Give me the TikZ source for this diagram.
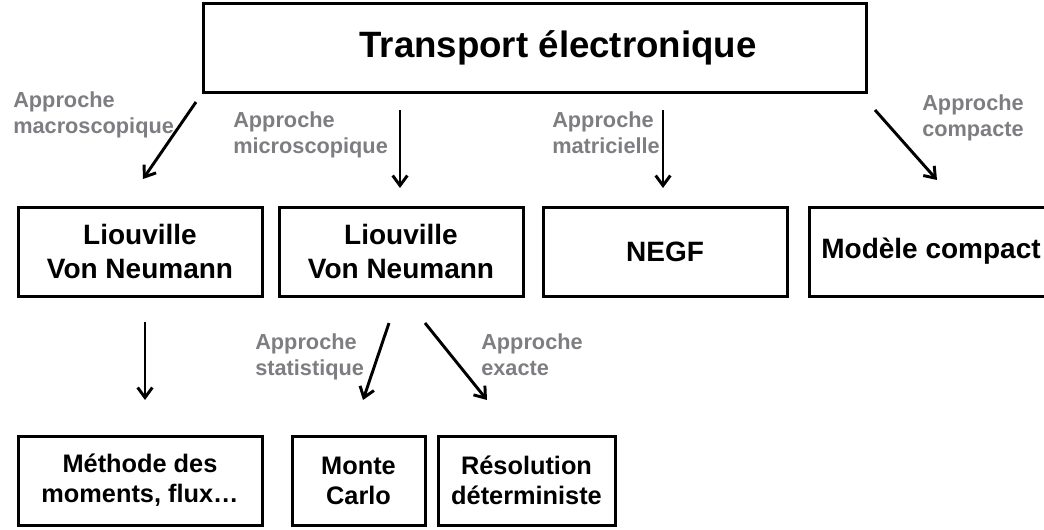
\documentclass[tikz,border=0pt]{standalone}
\usepackage{fontspec}
\setmainfont{Liberation Sans}
\usetikzlibrary{arrows.meta}
\definecolor{grisapp}{RGB}{126,126,130}
\tikzset{
  boite/.style={draw=black, line width=2.25pt, minimum height=66.75pt, inner sep=0pt,
    align=center, font=\bfseries\fontsize{21}{26}\selectfont},
  boitebas/.style={boite, font=\bfseries\fontsize{19}{22.5}\selectfont},
  approche/.style={anchor=base west, inner sep=0pt, align=left, text=grisapp,
    font=\bfseries\fontsize{16.3}{19.5}\selectfont},
  fleche/.style={line width=2.2pt, -{Straight Barb[length=7.5pt,width=11pt]}}
}
\begin{document}
\begin{tikzpicture}[x=0.75pt,y=-0.75pt]
  \useasboundingbox (0,0) rectangle (1044,529);
  % Boite du haut
  \node[boite, minimum width=497.25pt] (transport) at (534.5,47.5) {};
  \node[anchor=base, inner sep=0pt, font=\bfseries\fontsize{27.5}{33}\selectfont]
    (titre) at (558,57) {Transport électronique};
  % Deuxieme niveau
  \node[boite, minimum width=183pt] (lvmacro) at (140,251.5) {Liouville\\Von Neumann};
  \node[boite, minimum width=183pt] (lvmicro) at (401,251.5) {Liouville\\Von Neumann};
  \node[boite, minimum width=183pt] (negf) at (665,251.5) {NEGF};
  \node[boite, minimum width=183pt] (compact) at (931,251.5) {Modèle compact};
  % Troisieme niveau
  \node[boitebas, minimum width=183pt] (moments) at (140,480.5) {Méthode des\\moments, flux…};
  \node[boitebas, minimum width=99.75pt] (montecarlo) at (358.5,480.5) {Monte\\Carlo};
  \node[boitebas, minimum width=132.75pt] (resolution) at (526.5,480.5) {Résolution\\déterministe};
  % Extremites des fleches
  \coordinate (macro-a) at (196,102);  \coordinate (macro-b) at (143,179);
  \coordinate (micro-a) at (400,110);  \coordinate (micro-b) at (400,188);
  \coordinate (matri-a) at (663,110);  \coordinate (matri-b) at (663,188);
  \coordinate (compa-a) at (875,110);  \coordinate (compa-b) at (937,180);
  \coordinate (mom-a) at (145,322);    \coordinate (mom-b) at (145,400);
  \coordinate (stat-a) at (389,323);   \coordinate (stat-b) at (363,400);
  \coordinate (exact-a) at (425,323);  \coordinate (exact-b) at (487,400);
  \draw[fleche] (macro-a) -- (macro-b);
  \draw[fleche] (micro-a) -- (micro-b);
  \draw[fleche] (matri-a) -- (matri-b);
  \draw[fleche] (compa-a) -- (compa-b);
  \draw[fleche] (mom-a) -- (mom-b);
  \draw[fleche] (stat-a) -- (stat-b);
  \draw[fleche] (exact-a) -- (exact-b);
  % Etiquettes en gris
  \node[approche] (lmacro) at (13,133) {Approche\\macroscopique};
  \node[approche] (lmicro) at (233,153) {Approche\\microscopique};
  \node[approche] (lmatri) at (552,153) {Approche\\matricielle};
  \node[approche] (lcompa) at (922,136) {Approche\\compacte};
  \node[approche] (lstat) at (255,375) {Approche\\statistique};
  \node[approche] (lexact) at (481,375) {Approche\\exacte};
\end{tikzpicture}
\end{document}
